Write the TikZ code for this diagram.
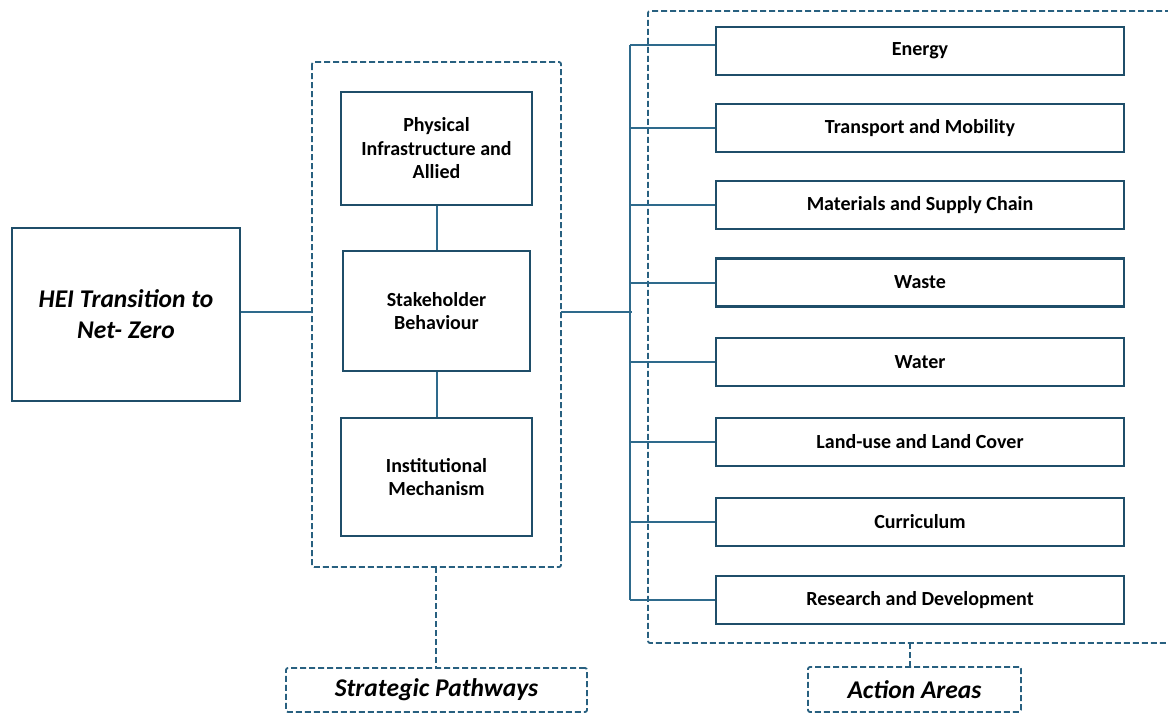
\documentclass[tikz,border=0pt]{standalone}
\usepackage{fontspec}
\setmainfont{Carlito}
\begin{document}
\begin{tikzpicture}[x=1pt,y=-1pt,
  boxc/.style={draw=boxcol,line width=2.3pt,fill=white,inner sep=0pt,align=center,font=\fontsize{20}{23.5}\selectfont\bfseries},
  dbox/.style={draw=dashcol,line width=1.8pt,dash pattern=on 6pt off 3pt,rounded corners=2pt},
  conn/.style={draw=linecol,line width=2pt},
  dconn/.style={draw=dashcol,line width=1.8pt,dash pattern=on 6pt off 3pt}]
\definecolor{boxcol}{RGB}{31,78,105}
\definecolor{linecol}{RGB}{46,106,140}
\definecolor{dashcol}{RGB}{40,96,128}
\useasboundingbox (0,0) rectangle (1168,713);
% left box
\node[boxc,minimum width=228pt,minimum height=173pt,font=\fontsize{25.5}{31}\selectfont\bfseries\itshape] (hei) at (126,314.5) {HEI Transition to\\Net- Zero};
% strategic dashed container
\draw[dbox] (312,62) rectangle (561,567);
\coordinate (spW) at (312,312);
\coordinate (spE) at (561,312);
\coordinate (spS) at (436,567);
\node[boxc,minimum width=191pt,minimum height=113pt] (phys) at (436.5,148.5) {Physical\\Infrastructure and\\Allied};
\node[boxc,minimum width=187pt,minimum height=120pt] (stake) at (436.5,311) {Stakeholder\\Behaviour};
\node[boxc,minimum width=191pt,minimum height=118pt] (inst) at (436.5,477) {Institutional\\Mechanism};
\draw[conn] (phys.south) -- (stake.north);
\draw[conn] (stake.south) -- (inst.north);
\draw[conn,line width=2.4pt] (hei.east |- spW) -- (spW);
% right dashed container
\draw[dbox] (1180,11) -- (648,11) -- (648,643) -- (1180,643);
\coordinate (aaS) at (910,643);
% action area boxes
\foreach \n/\t/\yy in {en/Energy/51, tr/Transport and Mobility/128, ma/Materials and Supply Chain/205, wa/Waste/282.5, wt/Water/362, la/Land-use and Land Cover/442, cu/Curriculum/522, re/Research and Development/600}{
  \node[boxc,minimum width=408pt,minimum height=48pt] (\n) at (920,\yy) {\t};
}
\coordinate (btop) at (630,45);
\coordinate (bbot) at (630,600);
\draw[conn] (btop) -- (bbot);
\draw[conn,line width=2.8pt] (spE) -- (632,312);
\draw[conn] (btop) -- ([yshift=6pt]en.west);
\foreach \n in {tr,ma,wa,wt,la,cu,re}{
  \draw[conn] (btop |- \n.west) -- (\n.west);
}
% bottom labels
\node[draw=dashcol,line width=1.8pt,dash pattern=on 6pt off 3pt,rounded corners=2pt,minimum width=301pt,minimum height=44pt,inner sep=0pt,font=\fontsize{25.5}{30}\selectfont\bfseries\itshape] (spl) at (436.5,690) {Strategic Pathways};
\node[draw=dashcol,line width=1.8pt,dash pattern=on 6pt off 3pt,rounded corners=2pt,minimum width=213pt,minimum height=45pt,inner sep=0pt,font=\fontsize{25.5}{30}\selectfont\bfseries\itshape] (aal) at (914.5,689.5) {Action Areas};
\draw[dconn] (spS) -- (spl.north -| spS);
\draw[dconn] (aaS) -- (aal.north -| aaS);
\end{tikzpicture}
\end{document}
